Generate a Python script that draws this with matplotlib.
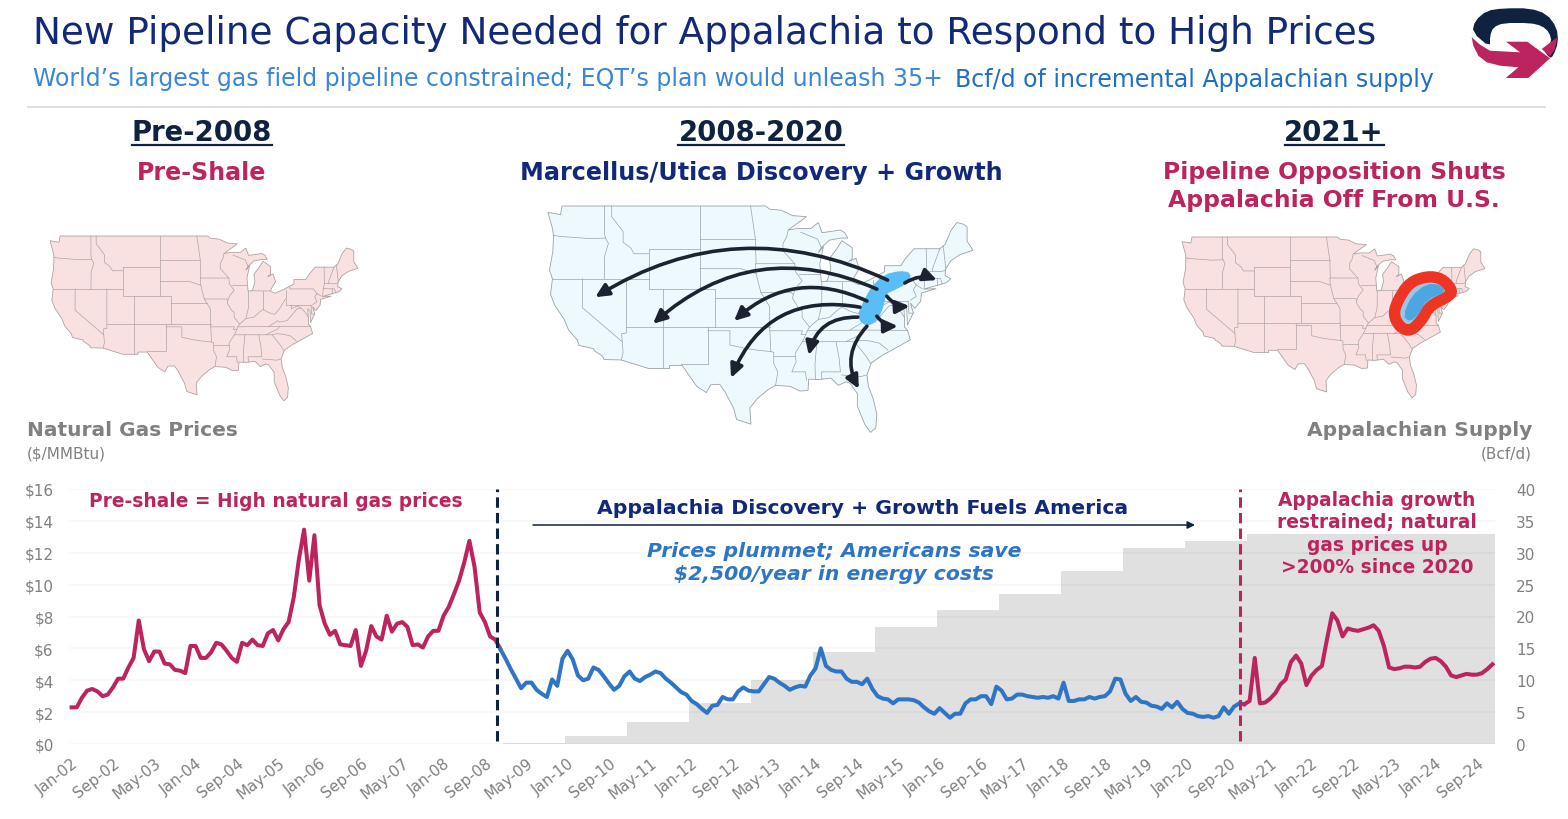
import numpy as np
import pandas as pd
import matplotlib
matplotlib.use("Agg")
from matplotlib import pyplot as plt
from matplotlib.patches import Polygon, FancyArrowPatch

plt.rcParams['font.family'] = ['DejaVu Sans']

################### DATA ###################
# monthly gas price, $/MMBtu
preShalePrices = [
    2.3, 2.3, 2.9, 3.35, 3.45, 3.3, 3.0, 3.1, 3.55, 4.1, 4.1, 4.8,
    5.4, 7.75, 5.95, 5.2, 5.8, 5.8, 5.05, 5.0, 4.65, 4.6, 4.45, 6.15,
    6.15, 5.4, 5.4, 5.75, 6.35, 6.25, 5.85, 5.4, 5.15, 6.35, 6.2, 6.55,
    6.2, 6.15, 6.95, 7.15, 6.5, 7.2, 7.65, 9.2, 11.6, 13.45, 10.25, 13.1,
    8.7, 7.55, 6.85, 7.1, 6.25, 6.2, 6.15, 7.15, 4.9, 5.85, 7.4, 6.75,
    6.55, 8.05, 7.05, 7.55, 7.65, 7.35, 6.2, 6.25, 6.05, 6.75, 7.1, 7.1,
    8.05, 8.6, 9.4, 10.25, 11.4, 12.75, 11.1, 8.25, 7.65, 6.75, 6.55, 5.95]
growthPrices = [
    5.35, 4.7, 4.1, 3.5, 3.85, 3.85, 3.4, 3.15, 2.95, 4.05, 3.65, 5.35,
    5.85, 5.3, 4.3, 4.0, 4.1, 4.8, 4.65, 4.25, 3.8, 3.4, 3.65, 4.25,
    4.55, 4.1, 3.95, 4.2, 4.35, 4.55, 4.45, 4.1, 3.85, 3.55, 3.25, 3.1,
    2.7, 2.5, 2.2, 1.95, 2.4, 2.45, 2.95, 2.8, 2.8, 3.3, 3.55, 3.35,
    3.3, 3.3, 3.75, 4.2, 4.1, 3.85, 3.65, 3.4, 3.55, 3.65, 3.6, 4.3,
    4.75, 6.0, 4.9, 4.65, 4.55, 4.55, 4.1, 3.9, 3.9, 3.75, 4.1, 3.45,
    3.0, 2.85, 2.8, 2.55, 2.8, 2.8, 2.8, 2.75, 2.6, 2.3, 2.05, 1.9,
    2.25, 1.95, 1.65, 1.9, 1.9, 2.55, 2.8, 2.8, 3.0, 3.0, 2.5, 3.6,
    3.35, 2.8, 2.85, 3.1, 3.1, 3.0, 2.95, 2.9, 2.95, 2.9, 3.0, 2.85,
    3.85, 2.7, 2.7, 2.8, 2.8, 2.95, 2.85, 2.95, 3.0, 3.3, 4.1, 4.05,
    3.15, 2.7, 2.95, 2.65, 2.6, 2.4, 2.35, 2.2, 2.55, 2.3, 2.65, 2.2,
    1.95, 1.9, 1.75, 1.7, 1.75, 1.65, 1.75, 2.3, 1.9, 2.35, 2.55]
restrainedPrices = [
    2.5, 2.7, 5.4, 2.55, 2.6, 2.85, 3.2, 3.75, 4.05, 5.15, 5.55, 5.05,
    3.7, 4.3, 4.65, 4.9, 6.6, 8.2, 7.75, 6.75, 7.25, 7.15, 7.1, 7.2,
    7.3, 7.45, 7.1, 6.15, 4.8, 4.7, 4.75, 4.85, 4.85, 4.8, 4.85, 5.15,
    5.35, 5.4, 5.2, 4.85, 4.3, 4.2, 4.3, 4.4, 4.35, 4.35, 4.45, 4.7, 5.0]
# Appalachian supply, Bcf/d, one step per year
supplyYears = [2009, 2010, 2011, 2012, 2013, 2014, 2015, 2016,
               2017, 2018, 2019, 2020, 2021, 2022, 2023, 2024]
supplyValues = [0.15, 1.2, 3.4, 6.5, 10.0, 14.5, 18.4, 21.0,
                23.5, 27.2, 30.7, 31.9, 32.9, 32.9, 32.9, 32.9]
priceTicks = [0, 2, 4, 6, 8, 10, 12, 14, 16]
supplyTicks = [0, 5, 10, 15, 20, 25, 30, 35, 40]

# simplified lon/lat outlines for the three map sketches
usOutline = [
    (-124.7, 48.4), (-123, 48.2), (-122.8, 49), (-95.15, 49), (-95.15, 49.4), (-94.6, 48.7), (-93, 48.6),
    (-91.5, 48.1), (-89.6, 48.0), (-92.1, 46.75), (-90.8, 46.9), (-89, 46.9), (-88, 47.45), (-87.5, 46.5),
    (-85, 46.75), (-84.4, 46.5), (-84, 46), (-85, 46), (-86.5, 45.8), (-87.6, 45.1), (-88, 44.6), (-87.3, 45.2),
    (-87.8, 43.5), (-87.6, 41.7), (-86.8, 41.75), (-86.3, 43), (-86.5, 44), (-85.5, 45), (-84.8, 45.75),
    (-83.4, 45.1), (-83.4, 44), (-83.9, 43.7), (-82.9, 44.05), (-82.45, 43), (-83.1, 42.2), (-83.4, 41.7),
    (-82.5, 41.4), (-81, 41.9), (-79, 42.7), (-79, 43.3), (-76.8, 43.3), (-76.2, 44), (-75, 45), (-71.5, 45),
    (-70.8, 45.4), (-70.3, 46.2), (-70, 46.7), (-69.2, 47.45), (-68.3, 47.3), (-67.8, 47.05), (-67.8, 45.7),
    (-67, 44.85), (-68.8, 44.4), (-70, 43.8), (-70.7, 43), (-70.8, 42.3), (-70, 42), (-70.6, 41.6), (-71.5, 41.4),
    (-73.7, 40.95), (-72, 41), (-74, 40.55), (-74.1, 39.7), (-74.9, 38.95), (-75.5, 39.5), (-75.1, 38.5),
    (-75.9, 37.2), (-76, 38.9), (-76.4, 39.2), (-76.3, 37.9), (-76.3, 37), (-75.9, 36.6), (-75.5, 35.25),
    (-76.5, 34.7), (-77.9, 33.9), (-79.2, 33.2), (-80.8, 32.1), (-81.4, 30.7), (-81.2, 29.6), (-80.55, 28.4),
    (-80.05, 26.9), (-80.2, 25.6), (-80.9, 25.15), (-81.7, 25.95), (-82.7, 27.7), (-82.7, 28.9), (-83.7, 29.9),
    (-84.2, 30.05), (-85.3, 29.7), (-86.3, 30.4), (-88, 30.25), (-89.3, 30.3), (-89.4, 29.2), (-90.5, 29.15),
    (-91.8, 29.6), (-93.8, 29.7), (-94.8, 29.3), (-96.3, 28.4), (-97.3, 27.5), (-97.15, 25.95), (-99.1, 26.4),
    (-99.5, 27.5), (-100.7, 29.1), (-101.4, 29.8), (-102.6, 29.75), (-103.2, 29), (-104.5, 29.6), (-106.5, 31.75),
    (-108.2, 31.75), (-108.2, 31.33), (-111.05, 31.33), (-114.8, 32.5), (-117.1, 32.55), (-117.3, 33),
    (-118.4, 33.75), (-118.5, 34.03), (-120.5, 34.5), (-120.7, 35.2), (-121.9, 36.6), (-122.5, 37.8),
    (-123.8, 39.3), (-124.35, 40.4), (-124.1, 42), (-124.5, 42.85), (-124.05, 44.7), (-123.95, 46.2),
    (-124.1, 46.9)]
stateLines = [
    [(-124, 46.25), (-123, 46.15), (-119, 45.95), (-116.9, 46)],
    [(-117.03, 49), (-117.03, 46.4), (-116.9, 46), (-116.5, 45.5), (-117, 44.3), (-117.03, 42)],
    [(-124.2, 42), (-111.05, 42)],
    [(-120, 42), (-120, 39), (-114.63, 35), (-114.5, 33.5), (-114.75, 32.5)],
    [(-114.05, 42), (-114.05, 36.2), (-114.7, 36.1), (-114.63, 35)],
    [(-116.05, 49), (-116.05, 48), (-114.5, 46.6), (-114.5, 45.6), (-113.5, 45.1), (-113, 44.5), (-111.05, 44.5)],
    [(-111.05, 45), (-104.05, 45)],
    [(-111.05, 45), (-111.05, 41), (-104.05, 41)],
    [(-104.05, 49), (-104.05, 41)],
    [(-104.05, 45.95), (-96.55, 45.95)],
    [(-104.05, 43), (-98.5, 43), (-96.45, 42.5)],
    [(-104.05, 41), (-102.05, 41), (-102.05, 37)],
    [(-102.05, 40), (-95.3, 40)],
    [(-114.05, 37), (-94.6, 37)],
    [(-109.05, 41), (-109.05, 31.33)],
    [(-103, 37), (-103, 32), (-106.6, 32)],
    [(-103, 36.5), (-100, 36.5), (-100, 34.55), (-98, 34.1), (-96, 33.8), (-94.45, 33.65)],
    [(-94.6, 37), (-94.45, 33.65), (-94.05, 33.55), (-94.05, 32), (-93.5, 31), (-93.8, 29.7)],
    [(-94.05, 33), (-91.15, 33)],
    [(-94.6, 36.5), (-90.15, 36.5), (-90.35, 36), (-89.7, 36)],
    [(-94.6, 37), (-94.6, 39.1), (-95.3, 40), (-95.8, 40.6), (-96.45, 42.5), (-96.55, 43.5), (-91.2, 43.5)],
    [(-95.8, 40.6), (-91.7, 40.6), (-91.4, 40.4)],
    [(-97.2, 49), (-96.55, 45.95), (-96.45, 43.5)],
    [(-92.1, 46.75), (-92.3, 46.1), (-92.8, 45.5), (-92.8, 44.8), (-91.2, 43.5), (-91.1, 42.7), (-90.2, 41.8),
     (-91.1, 41), (-91.4, 40.4), (-91.5, 40), (-90.7, 39), (-90.2, 38.7), (-90.2, 38), (-89.2, 37), (-89.5, 36.5),
     (-89.7, 36), (-90.1, 35.1), (-91.1, 33.5), (-91.15, 33), (-91, 32.3), (-91.6, 31), (-89.75, 31), (-89.6, 30.2)],
    [(-90.65, 42.5), (-87.8, 42.5)],
    [(-87.53, 41.7), (-87.53, 39.3), (-88, 37.8)],
    [(-89.2, 37), (-88, 37.8), (-86.5, 38), (-85.5, 38.7), (-84.8, 39.1), (-83.7, 38.65), (-82.6, 38.4),
     (-81.7, 39.2), (-80.6, 40.6)],
    [(-84.8, 41.7), (-84.8, 39.1)],
    [(-87, 41.75), (-84.8, 41.72), (-83.4, 41.72)],
    [(-90.4, 46.55), (-88.1, 45.9), (-87.6, 45.1)],
    [(-80.52, 41.9), (-80.52, 39.72), (-75.8, 39.72)],
    [(-79.76, 42.25), (-79.76, 42), (-75.35, 42), (-74.7, 41.36), (-75.1, 40.9), (-74.7, 40.2), (-75.5, 39.8)],
    [(-74.7, 41.36), (-73.9, 41)],
    [(-89.5, 36.5), (-81.7, 36.6), (-75.9, 36.55)],
    [(-90.1, 35), (-84.3, 35), (-82, 36.1), (-81.7, 36.6)],
    [(-84.3, 35), (-83.1, 35), (-82.3, 35.2), (-81, 35.1), (-79.7, 34.8), (-78.55, 33.85)],
    [(-83.1, 35), (-81.5, 33), (-80.9, 32)],
    [(-85.6, 35), (-85.2, 32.9), (-85, 31), (-87.6, 31), (-87.5, 30.3)],
    [(-84.85, 30.7), (-82.2, 30.55), (-81.5, 30.7)],
    [(-88.2, 35), (-88.45, 31.9), (-88.4, 30.3)],
    [(-83.7, 36.6), (-82, 37.5), (-81.7, 37.3), (-80.3, 37.5), (-79.3, 38.4), (-78.4, 39.2), (-77.7, 39.3),
     (-77, 38.8), (-76.3, 38)],
    [(-79.5, 39.72), (-79.5, 39.2), (-78.4, 39.6), (-77.7, 39.3)],
    [(-75.8, 39.72), (-75.7, 38.45), (-75.1, 38.45)],
    [(-73.35, 45), (-73.3, 42.75), (-73.5, 42), (-73.65, 41)],
    [(-71.5, 45), (-72.5, 43), (-72.45, 42.73)],
    [(-73.3, 42.75), (-71.3, 42.7), (-70.8, 42.85)],
    [(-73.5, 42.05), (-71.4, 42), (-71.2, 41.5)],
    [(-71.8, 42), (-71.85, 41.3)],
    [(-71.05, 45.3), (-70.7, 43.1)]]
# the source map is not plate carree, latitudes get squeezed a bit
latKnots = [25, 31.33, 37, 41, 45, 49]
latShown = [25, 31.9, 36.25, 40.3, 44.5, 49]
growthBlob = [(-75.6, 41.83), (-76.0, 41.06), (-77.4, 40.43), (-79.0, 39.9), (-79.4, 38.33), (-80.1, 37.2),
              (-81.0, 36.6), (-81.9, 36.75), (-82.45, 37.45), (-81.7, 38.85), (-80.55, 40.43), (-79.0, 41.6),
              (-76.95, 42.0)]
ringOutline = [(-78.1, 43.2), (-81.45, 42.25), (-83.7, 39.5), (-84.45, 37.45), (-83.2, 35.6), (-81.15, 35.0),
               (-78.9, 36.8), (-77.6, 38.8), (-73.6, 40.3), (-73.3, 41.25), (-75.25, 42.9)]
ringBlob = [(-75.55, 41.9), (-78.1, 42.0), (-80.95, 40.25), (-82.55, 37.3), (-81.3, 36.5), (-79.7, 37.55),
            (-78.1, 39.8), (-74.6, 40.8)]
# start, end, bend of the flow arrows on the middle map
flowArrows = [((-78.6, 41.2), (-118.3, 39.4), 0.27), ((-80.05, 40.25), (-110.45, 36.6), 0.32),
              ((-81.4, 39.0), (-99.45, 36.9), 0.33), ((-82.35, 38.35), (-99.85, 30.9), 0.4),
              ((-82.65, 37.3), (-89.3, 33.3), 0.4), ((-81.4, 36.35), (-82.5, 29.75), 0.35),
              ((-76.25, 40.9), (-71.9, 41.2), -0.25), ((-78.7, 39.5), (-75.6, 38.45), 0.25),
              ((-80.05, 37.4), (-77.2, 36.35), 0.25)]

################### COLORS ###################
navy = "#0F2240"
royal = "#12297A"
blue = "#2F75C5"
magenta = "#BC2460"
gray = "#808080"
W, H = 1568, 820

fig = plt.figure(figsize=(15.68, 8.2), dpi=100)

def pixelAxes(left, right, top, bottom, **kw):
    return fig.add_axes([left/W, 1-bottom/H, (right-left)/W, (bottom-top)/H], **kw)

def smooth(points, passes=2):
    # corner cutting, rounds off the hand drawn shapes
    pts = np.array(points, dtype=float)
    for _ in range(passes):
        nxt = np.roll(pts, -1, axis=0)
        pts = np.column_stack([0.75*pts + 0.25*nxt, 0.25*pts + 0.75*nxt]).reshape(-1, 2)
    return pts

################### PRICE CHART ###################
prices = np.array(preShalePrices + growthPrices + restrainedPrices)
months = pd.date_range("2002-01-01", periods=len(prices), freq="MS").strftime("%b-%y")
x = np.arange(len(prices))
firstBlue = len(preShalePrices) - 1
firstRed = firstBlue + len(growthPrices) + 1

axSupply = pixelAxes(69, 1495, 490, 745)
axPrice = axSupply.twinx()
axSupply.yaxis.tick_right()
axPrice.yaxis.tick_left()
axPrice.set_zorder(axSupply.get_zorder() + 1)
axPrice.patch.set_visible(False)

barLefts = [(year - 2002) * 12 - 0.5 for year in supplyYears]
axSupply.bar(barLefts, supplyValues, width=12, align="edge", color="#E0E0E0", linewidth=0)
axSupply.set_ylim(0, 40)
axSupply.set_yticks(supplyTicks)
axSupply.set_xlim(-0.5, len(prices) - 0.5)

for level in priceTicks:
    axPrice.axhline(level, color="black", alpha=0.035, lw=1.1, zorder=1)
axPrice.plot(x[:firstBlue+1], prices[:firstBlue+1], color=magenta, lw=2.9, zorder=3)
axPrice.plot(x[firstBlue:firstRed+1], prices[firstBlue:firstRed+1], color=blue, lw=2.9, zorder=3)
axPrice.plot(x[firstRed:], prices[firstRed:], color=magenta, lw=2.9, zorder=3)
axPrice.axvline(82.3, ymin=0.01, color=navy, lw=2.2, dashes=(3.4, 1.7), zorder=4)
axPrice.axvline(226.1, ymin=0.01, color=magenta, lw=2.2, dashes=(3.4, 1.7), zorder=4)
axPrice.set_ylim(0, 16)
axPrice.set_yticks(priceTicks)
axPrice.set_yticklabels(["$%d" % t for t in priceTicks])
axPrice.set_xlim(-0.5, len(prices) - 0.5)

axSupply.set_xticks(x[::8])
axSupply.set_xticklabels(months[::8], rotation=38, ha="right", rotation_mode="anchor")
for ax in (axSupply, axPrice):
    ax.tick_params(length=0, labelsize=11, labelcolor=gray)
    for spine in ax.spines.values():
        spine.set_visible(False)
axSupply.tick_params(axis="y", pad=15)
axPrice.tick_params(axis="y", pad=11)
axSupply.tick_params(axis="x", pad=8)

################### MAPS ###################
def drawMap(left, right, top, bottom, fill, edge):
    ax = pixelAxes(left, right, top, bottom)
    ax.set_xlim(-124.7, -67)
    ax.set_ylim(25, 49)
    ax.axis("off")
    outline = np.array(usOutline)
    outline[:, 1] = np.interp(outline[:, 1], latKnots, latShown)
    ax.add_patch(Polygon(outline, closed=True, facecolor=fill, edgecolor=edge, lw=0.6, clip_on=False))
    for line in stateLines:
        lons, lats = zip(*line)
        ax.plot(lons, np.interp(lats, latKnots, latShown), color=edge, lw=0.5, clip_on=False)
    return ax

drawMap(50, 358, 237, 403, "#F9E1E1", "#AFA3A3")

axMid = drawMap(548, 973, 207, 435, "#EEF9FE", "#9AA1A5")
axMid.add_patch(Polygon(smooth(growthBlob, 1), closed=True, facecolor="#5BBDF5", edgecolor="#5BBDF5", lw=2.5, zorder=5,
                        clip_on=False, joinstyle="round"))
for start, end, bend in flowArrows:
    axMid.add_patch(FancyArrowPatch(start, end, connectionstyle="arc3,rad=%s" % bend,
                                    arrowstyle="-|>,head_length=0.42,head_width=0.2",
                                    mutation_scale=19, color="#1C2230", lw=2.6, zorder=6, clip_on=False,
                                    shrinkA=0, shrinkB=0))

axRight = drawMap(1182, 1485, 238, 400, "#F9E1E1", "#AFA3A3")
axRight.add_patch(Polygon(smooth(ringOutline), closed=True, facecolor="#9CC5E6", edgecolor="#EE3524", lw=8.2, zorder=5,
                          clip_on=False, joinstyle="round"))
axRight.add_patch(Polygon(smooth(ringBlob, 1), closed=True, facecolor="#4DA6DF", edgecolor="#4DA6DF", lw=0.5, zorder=6,
                          clip_on=False))

################### TEXT AND DECORATION ###################
top = fig.add_axes([0, 0, 1, 1])
top.set_xlim(0, W)
top.set_ylim(H, 0)
top.axis("off")

def label(x, y, s, size, color, ha="center", weight="bold", style="normal"):
    return top.text(x, y + 1, s, fontsize=size, color=color, ha=ha, va="center", fontweight=weight, fontstyle=style)

label(33, 33, "New Pipeline Capacity Needed for Appalachia to Respond to High Prices", 26.9, royal, ha="left", weight="normal")
label(33, 78, "World\u2019s largest gas field pipeline constrained; EQT\u2019s plan would unleash 35+", 17.05, "#3A86D8", ha="left", weight="normal")
label(955, 79, "Bcf/d of incremental Appalachian supply", 17.1, "#1F6FC4", ha="left", weight="normal")
top.plot([28, 1545], [108, 108], color="#D9D9D9", lw=1.2)

label(202, 132, "Pre-2008", 19.8, navy)
label(761, 132, "2008-2020", 19.8, navy)
label(1334, 132, "2021+", 19.8, navy)
for x0, x1 in [(132, 272), (678, 844), (1285, 1384)]:
    top.plot([x0, x1], [146, 146], color=navy, lw=1.6)
label(202, 172, "Pre-Shale", 17.1, magenta)
label(761, 172, "Marcellus/Utica Discovery + Growth", 17.2, royal)
label(1334, 172, "Pipeline Opposition Shuts", 16.9, magenta)
label(1334, 200, "Appalachia Off From U.S.", 16.9, magenta)

label(27, 430, "Natural Gas Prices", 14.5, gray, ha="left")
label(27, 453, "($/MMBtu)", 11, gray, ha="left", weight="normal")
label(1532, 430, "Appalachian Supply", 14.5, gray, ha="right")
label(1532, 453, "(Bcf/d)", 11, gray, ha="right", weight="normal")

label(276, 501, "Pre-shale = High natural gas prices", 13.4, magenta)
label(863, 507, "Appalachia Discovery + Growth Fuels America", 14.7, royal)
top.add_patch(FancyArrowPatch((533, 526), (1195, 526), arrowstyle="-|>", mutation_scale=11, color=navy, lw=1.1,
                              shrinkA=0, shrinkB=0))
label(834, 551, "Prices plummet; Americans save", 14.7, blue, style="italic")
label(834, 574, "$2,500/year in energy costs", 14.7, blue, style="italic")
for y, s in zip([500, 522, 545, 567], ["Appalachia growth", "restrained; natural", "gas prices up", ">200% since 2020"]):
    label(1377, y, s, 13.4, magenta)

# logo
top.add_patch(Polygon(smooth([(1472.3, 33.3), (1475, 21.7), (1486.7, 11.7), (1503.3, 9.3), (1530, 9.3), (1546.7, 15),
                              (1556.7, 28.3), (1558.3, 43.3), (1553.3, 56.7), (1550, 59.3), (1544, 51.7), (1551.7, 43.3),
                              (1549.3, 33.3), (1541.7, 26.7), (1530, 24), (1503.3, 24), (1493.3, 28.3), (1490, 36.7),
                              (1490, 48.3)], 1), closed=True, facecolor=navy, edgecolor="none"))
top.add_patch(Polygon([(1471.7, 38.3), (1473.3, 46.7), (1478.3, 56.7), (1486.7, 63.3), (1500, 66.7), (1518.3, 68.3),
                       (1505.7, 79), (1528.3, 79), (1550, 59.3), (1527.3, 42.7), (1506, 42.7), (1520, 53.3),
                       (1490, 51.7), (1480, 45.7)],
                      closed=True, facecolor=magenta, edgecolor="none"))
top.add_patch(Polygon([(1541.7, 50), (1557.3, 38.3), (1555, 50), (1550, 57.3)], closed=True, facecolor=magenta, edgecolor="none"))

fig.savefig("out.png", dpi=100)
